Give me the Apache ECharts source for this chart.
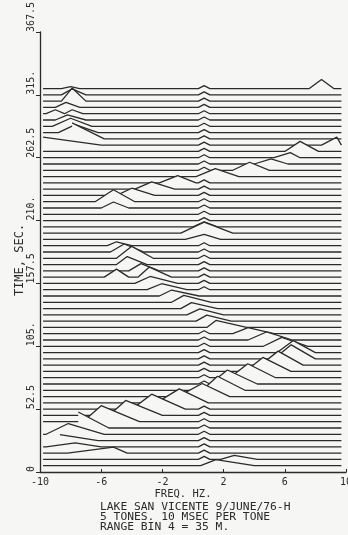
<!DOCTYPE html>
<html>
<head>
<meta charset="utf-8">
<script src="https://cdn.jsdelivr.net/npm/echarts@6/dist/echarts.min.js"></script>
<style>
  html, body { margin: 0; padding: 0; background: #f6f6f4; }
  #chart { width: 348px; height: 535px; }
</style>
</head>
<body>
<div id="chart"></div>
<script>
// waterfall of spectra, one trace every 5.25 s
const times = [
  5.25, 10.5, 15.75, 21, 26.25, 31.5, 36.75, 42, 47.25, 52.5,
  57.75, 63, 68.25, 73.5, 78.75, 84, 89.25, 94.5, 99.75, 105,
  110.25, 115.5, 120.75, 126, 131.25, 136.5, 141.75, 147, 152.25, 157.5,
  162.75, 168, 173.25, 178.5, 183.75, 189, 194.25, 199.5, 204.75, 210,
  215.25, 220.5, 225.75, 231, 236.25, 241.5, 246.75, 252, 257.25, 262.5,
  267.75, 273, 278.25, 283.5, 288.75, 294, 299.25, 304.5, 309.75, 315,
  320.25
];

// peaks per trace: [left foot Hz, apex Hz, height s, right foot Hz]
const peaks = [
  [[0.5, 1.5, 5.0, 4.0]],
  [[1.8, 2.7, 3.3, 4.2]],
  [[-8.2, -5.2, 5.0, -4.3]],
  [[-9.6, -7.7, 3.3, -6.0]],
  [[-9.8, -8.7, 5.0, -6.2]],
  [[-9.6, -8.15, 9.0, -5.8]],
  [[-9.8, -7.5, 13.4, -5.5]],
  [[-7.2, -6.0, 13.4, -3.5]],
  [[-5.5, -4.4, 12.5, -2.0]],
  [[-4.0, -2.7, 12.5, -0.5]],
  [[-2.4, -0.9, 11.7, 1.0]],
  [[-1.0, 0.6, 10.9, 2.4]],
  [[0.6, 1.6, 11.7, 3.4]],
  [[1.2, 2.25, 11.7, 4.2]],
  [[2.4, 3.58, 11.7, 5.4]],
  [[3.4, 4.57, 11.7, 6.4]],
  [[4.4, 5.56, 11.7, 7.2]],
  [[5.3, 6.42, 11.7, 8.0]],
  [[5.5, 6.56, 10.0, 8.0]],
  [[4.6, 5.8, 7.5, 7.5]],
  [[3.6, 4.8, 6.7, 6.5]],
  [[2.6, 3.6, 5.0, 5.3]],
  [[0.9, 1.5, 5.8, 3.5]],
  [[0.2, 0.9, 5.0, 2.5]],
  [[-0.4, 0.45, 5.0, 2.0]],
  [[-0.8, -0.1, 5.0, 1.6]],
  [[-1.4, -0.6, 5.8, 1.2]],
  [[-2.2, -1.4, 5.0, 0.4]],
  [[-3.0, -2.05, 5.0, -0.4]],
  [[-3.8, -2.8, 5.8, -1.0]],
  [[-5.8, -5.0, 6.7, -4.2], [-3.6, -2.85, 8.4, -1.4]],
  [[-4.2, -3.4, 6.0, -2.2]],
  [[-5.0, -4.3, 6.7, -3.0]],
  [[-5.0, -4.0, 10.0, -2.6]],
  [[-5.4, -4.5, 6.7, -3.2]],
  [[-5.6, -5.0, 3.3, -4.0]],
  [[-0.5, 0.73, 4.2, 1.8]],
  [[-0.8, 0.73, 9.2, 2.6]],
  [[0.0, 0.73, 4.2, 1.6]],
  [],
  [],
  [[-6.0, -5.2, 5.0, -4.2]],
  [[-6.4, -5.2, 10.0, -3.8]],
  [[-5.0, -4.0, 6.0, -2.5]],
  [[-3.8, -2.7, 6.0, -1.2]],
  [[-2.2, -1.0, 6.0, 0.2]],
  [[0.2, 1.46, 6.7, 3.0]],
  [[2.6, 3.7, 6.7, 5.0]],
  [[4.0, 5.1, 4.2, 6.2]],
  [[5.3, 6.36, 4.2, 7.0]],
  [[6.0, 7.0, 8.4, 8.2]],
  [[-9.8, -9.8, 6.7, -6.0], [8.4, 9.4, 6.7, 9.7]],
  [[-9.8, -7.9, 13.4, -5.8]],
  [[-8.8, -7.7, 6.7, -6.2]],
  [[-9.2, -8.0, 6.7, -6.6]],
  [[-9.0, -8.2, 4.2, -7.0]],
  [[-9.6, -9.0, 3.3, -8.4], [-8.4, -7.9, 3.3, -7.2]],
  [[-9.0, -8.3, 4.2, -7.4]],
  [[-8.6, -7.9, 10.9, -7.0]],
  [[-8.6, -7.9, 5.0, -7.0]],
  [[-8.6, -8.0, 1.7, -7.4], [7.6, 8.4, 7.5, 9.2]]
];

// small steady line near 0.7 Hz seen on most traces
const lineBump = [0.35, 0.73, 2.5, 1.1];
const traceStart = -9.8;
const traceEnd = 9.7;

const xTickLabels = ['-10', '-6', '-2', '2', '6', '10'];
const yTickLabels = ['0', '52.5', '105.', '157.5', '210.', '262.5', '315.', '367.5'];

const bg = '#f6f6f4';
const ink = '#2b2b2b';
const mono = 'DejaVu Sans Mono';

function traceData(t, list) {
  let tris = list.slice();
  let hitsBump = tris.some(p => p[0] < lineBump[3] && p[3] > lineBump[0]);
  if (!hitsBump) tris.push(lineBump);
  tris.sort((a, b) => a[0] - b[0]);

  let pts = [];
  if (!tris.length || tris[0][0] > traceStart) pts.push([traceStart, 0]);
  tris.forEach(p => {
    let lastX = pts.length ? pts[pts.length - 1][0] : -Infinity;
    if (p[0] > lastX && p[0] > traceStart) pts.push([p[0], 0]);
    pts.push([p[1], p[2]]);
    pts.push([p[3], 0]);
  });
  if (pts[pts.length - 1][0] < traceEnd) pts.push([traceEnd, 0]);
  return pts.map(p => [p[0], t + p[1]]);
}

let series = [];
// back traces first, front traces drawn over them (hidden lines)
for (let k = times.length - 1; k >= 0; k--) {
  series.push({
    type: 'line',
    data: traceData(times[k], peaks[k]),
    symbol: 'none',
    silent: true,
    z: 100 - k,
    lineStyle: { color: ink, width: 1.3 },
    areaStyle: { color: bg, opacity: 1, origin: 'start' }
  });
}

const chart = echarts.init(document.getElementById('chart'));
chart.setOption({
  backgroundColor: bg,
  animation: false,
  title: {
    text: 'LAKE SAN VICENTE 9/JUNE/76-H\n5 TONES. 10 MSEC PER TONE\nRANGE BIN 4 = 35 M.',
    left: 100,
    top: 502,
    padding: 0,
    textStyle: {
      fontFamily: mono,
      fontSize: 11.3,
      fontWeight: 'normal',
      color: ink,
      lineHeight: 10
    }
  },
  grid: { left: 40, right: 2, top: 32, bottom: 63, outerBoundsMode: 'none', containLabel: false },
  xAxis: {
    type: 'value',
    min: -10,
    max: 10,
    interval: 4,
    z: 200,
    name: 'FREQ. HZ.',
    nameLocation: 'middle',
    nameMoveOverlap: false,
    nameGap: 17,
    nameTextStyle: { fontFamily: mono, fontSize: 10.5, color: ink, padding: [0, 20, 0, 0] },
    axisLine: { onZero: false, lineStyle: { color: ink, width: 1.3 } },
    axisTick: { inside: true, length: 3, lineStyle: { color: ink } },
    splitLine: { show: false },
    axisLabel: {
      margin: 5,
      fontFamily: mono,
      fontSize: 10,
      color: ink,
      formatter: v => xTickLabels[Math.round((v + 10) / 4)]
    }
  },
  yAxis: {
    type: 'value',
    min: 0,
    max: 367.5,
    interval: 52.5,
    z: 200,
    name: 'TIME, SEC.',
    nameLocation: 'middle',
    nameRotate: 90,
    nameMoveOverlap: false,
    nameGap: 14,
    nameTextStyle: { fontFamily: mono, fontSize: 12, color: ink, padding: [0, 16, 0, 0] },
    axisLine: { show: true, onZero: false, lineStyle: { color: ink, width: 1.3 } },
    axisTick: { show: true, length: 4, lineStyle: { color: ink } },
    splitLine: { show: false },
    axisLabel: {
      rotate: 90,
      margin: 9,
      align: 'left',
      verticalAlign: 'middle',
      fontFamily: mono,
      fontSize: 10,
      color: ink,
      formatter: v => yTickLabels[Math.round(v / 52.5)]
    }
  },
  series: series
});
</script>
</body>
</html>
